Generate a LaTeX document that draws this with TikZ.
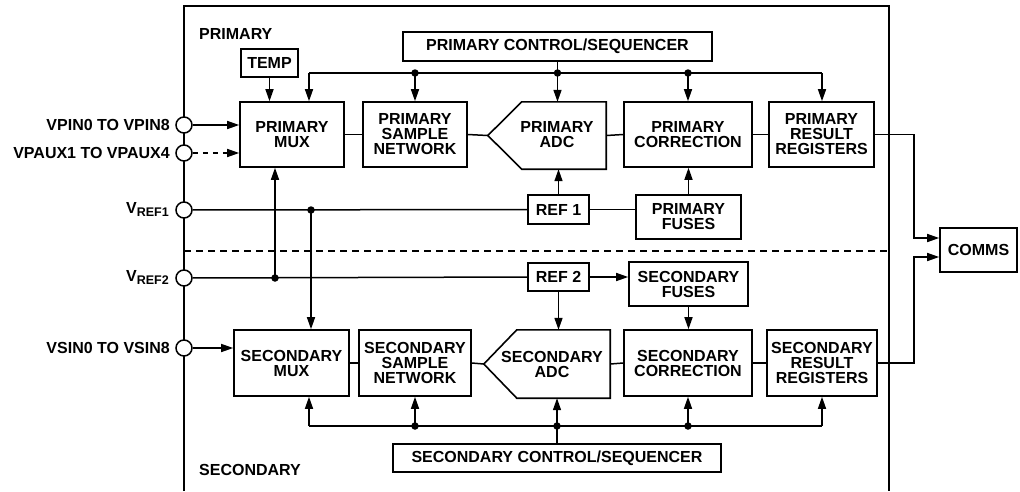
\documentclass[tikz,border=0pt]{standalone}
\usepackage{fontspec}
\setmainfont{Liberation Sans}
\usetikzlibrary{arrows.meta,calc}
\newcommand\dfont{\fontsize{16}{15}\selectfont\bfseries}
\newcommand\refsub[1]{\raisebox{-3pt}{\fontsize{12.5}{12}\selectfont #1}}
\begin{document}
\begin{tikzpicture}[x=1pt,y=-1pt,
  ln/.style={line width=1.5pt},
  arr/.style={ln,-{Triangle[length=12pt,width=8pt]}},
  blk/.style={draw,line width=1.6pt,inner sep=0pt,align=center,font=\dfont},
  adcbody/.style={inner sep=0pt},
  txt/.style={align=center,font=\dfont,inner sep=0pt},
  lbl/.style={font=\dfont,inner sep=0pt,anchor=east},
  pin/.style={circle,draw,fill=white,minimum size=16pt,inner sep=0pt,line width=1.5pt},
  dot/.style={circle,fill=black,inner sep=0pt,minimum size=7.5pt},
  dsh/.style={dash pattern=on 7pt off 5pt}
]
\useasboundingbox (0,0) rectangle (1020,491);
% frame and divider
\draw[ln] (184,491) -- (184,6) -- (889,6) -- (889,491);
\draw[ln,dsh] (184,251) -- (889,251);
\node[txt,anchor=base west] (lprim) at (199,39) {PRIMARY};
\node[txt,anchor=base west] (lsec) at (199,475) {SECONDARY};

% primary blocks
\node[blk,minimum width=57pt,minimum height=28pt] (temp) at (269.5,63) {TEMP};
\node[blk,minimum width=309pt,minimum height=29pt] (pctrl) at (557.5,46.5) {PRIMARY CONTROL/SEQUENCER};
\node[blk,minimum width=104pt,minimum height=65pt] (pmux) at (292,134.5) {PRIMARY\\MUX};
\node[blk,minimum width=104pt,minimum height=65pt] (psamp) at (415,134.5) {PRIMARY\\SAMPLE\\NETWORK};
\node[adcbody,minimum width=84pt,minimum height=67pt] (padc) at (564,135.5) {};
\coordinate (padctip) at ($(padc.west)+(-34,0)$);
\draw[line width=1.6pt] (padc.north east) -- (padc.south east) -- (padc.south west) -- (padctip) -- (padc.north west) -- cycle;
\node[txt] (padct) at (557,135) {PRIMARY\\ADC};
\node[blk,minimum width=128pt,minimum height=65pt] (pcorr) at (688,134.5) {PRIMARY\\CORRECTION};
\node[blk,minimum width=105pt,minimum height=65pt] (preg) at (821.5,134.5) {PRIMARY\\RESULT\\REGISTERS};
\node[blk,minimum width=61pt,minimum height=29pt] (ref1) at (558.5,209.5) {REF 1};
\node[blk,minimum width=105pt,minimum height=44pt] (pfuse) at (688.5,217) {PRIMARY\\FUSES};

% secondary blocks
\node[blk,minimum width=61pt,minimum height=28pt] (ref2) at (558.5,277) {REF 2};
\node[blk,minimum width=119pt,minimum height=44pt] (sfuse) at (688.5,284) {SECONDARY\\FUSES};
\node[blk,minimum width=115pt,minimum height=66pt] (smux) at (291.5,363) {SECONDARY\\MUX};
\node[blk,minimum width=112pt,minimum height=66pt] (ssamp) at (415,363) {SECONDARY\\SAMPLE\\NETWORK};
\node[adcbody,minimum width=93pt,minimum height=68pt] (sadc) at (563.5,364) {};
\coordinate (sadctip) at ($(sadc.west)+(-33,0)$);
\draw[line width=1.6pt] (sadc.north east) -- (sadc.south east) -- (sadc.south west) -- (sadctip) -- (sadc.north west) -- cycle;
\node[txt] (sadct) at (552,364) {SECONDARY\\ADC};
\node[blk,minimum width=128pt,minimum height=66pt] (scorr) at (688,363) {SECONDARY\\CORRECTION};
\node[blk,minimum width=110pt,minimum height=66pt] (sreg) at (822,363) {SECONDARY\\RESULT\\REGISTERS};
\node[blk,minimum width=328pt,minimum height=28pt] (sctrl) at (557,458) {SECONDARY CONTROL/SEQUENCER};
\node[blk,minimum width=77pt,minimum height=44pt] (comms) at (978.5,250) {COMMS};

% pins and labels
\node[pin] (vpin) at (184,125) {};
\node[pin] (vpaux) at (184,153) {};
\node[pin] (vref1) at (184,210) {};
\node[pin] (vref2) at (184,278) {};
\node[pin] (vsin) at (184,348) {};
\node[lbl] (lvpin) at (170,125) {VPIN0 TO VPIN8};
\node[lbl] (lvpaux) at (170,153) {VPAUX1 TO VPAUX4};
\node[lbl,anchor=base east] (lvref1) at (169,213) {V\refsub{REF1}};
\node[lbl,anchor=base east] (lvref2) at (169,281) {V\refsub{REF2}};
\node[lbl] (lvsin) at (170,348) {VSIN0 TO VSIN8};

% primary connections
\draw[arr] (temp.south) -- (temp.south |- pmux.north);
\draw[arr] (vpin) -- (vpin -| pmux.west);
\draw[arr,dash pattern=on 5pt off 5pt] (vpaux) -- (vpaux -| pmux.west);
\draw[ln] (pmux.east) -- (psamp.west);
\draw[ln] (psamp.east) -- (padctip);
\draw[ln] (padc.east) -- (pcorr.west);
\draw[ln] (pcorr.east) -- (preg.west);
\coordinate (pbL) at (309,73);
\coordinate (pbR) at (822,73);
\draw[ln] (pbL) -- (pbR);
\draw[arr] (pbL) -- (pbL |- pmux.north);
\draw[arr] (psamp.north |- pbL) -- (psamp.north);
\draw[arr] (pctrl.south) -- (pctrl.south |- padc.north);
\draw[arr] (pcorr.north |- pbL) -- (pcorr.north);
\draw[arr] (pbR) -- (pbR |- preg.north);
\node[dot] (pd1) at (psamp.north |- pbL) {};
\node[dot] (pd2) at (pctrl.south |- pbL) {};
\node[dot] (pd3) at (pcorr.north |- pbL) {};
\draw[ln] (vref1) -- (ref1.west);
\draw[ln] (ref1.east) -- (ref1.east -| pfuse.west);
\draw[arr] (ref1.north) -- (ref1.north |- padc.south);
\draw[arr] (pfuse.north) -- (pfuse.north |- pcorr.south);

% cross connections
\coordinate (j1) at (311,210);
\coordinate (j2) at (275,278);
\draw[arr] (j1) -- (j1 |- smux.north);
\draw[arr] (j2) -- (j2 |- pmux.south);
\node[dot] (jd1) at (j1) {};
\node[dot] (jd2) at (j2) {};

% secondary connections
\draw[ln] (vref2) -- (ref2.west);
\draw[arr] (ref2.east) -- (ref2.east -| sfuse.west);
\draw[arr] (ref2.south) -- (ref2.south |- sadc.north);
\draw[arr] (sfuse.south) -- (sfuse.south |- scorr.north);
\draw[arr] (vsin) -- (vsin -| smux.west);
\draw[ln] (smux.east) -- (ssamp.west);
\draw[ln] (ssamp.east) -- (sadctip);
\draw[ln] (sadc.east) -- (scorr.west);
\draw[ln] (scorr.east) -- (sreg.west);
\coordinate (sbL) at (309,426);
\coordinate (sbR) at (822,426);
\draw[ln] (sbL) -- (sbR);
\draw[arr] (sbL) -- (sbL |- smux.south);
\draw[arr] (ssamp.south |- sbL) -- (ssamp.south);
\draw[arr] (sctrl.north) -- (sctrl.north |- sadc.south);
\draw[arr] (scorr.south |- sbL) -- (scorr.south);
\draw[arr] (sbR) -- (sbR |- sreg.south);
\node[dot] (sd1) at (ssamp.south |- sbL) {};
\node[dot] (sd2) at (sctrl.north |- sbL) {};
\node[dot] (sd3) at (scorr.south |- sbL) {};

% to comms
\coordinate (c1) at (914,238);
\coordinate (c2) at (914,257);
\draw[arr] (preg.east) -| (c1) -- (c1 -| comms.west);
\draw[arr] (sreg.east) -| (c2) -- (c2 -| comms.west);
\end{tikzpicture}
\end{document}
